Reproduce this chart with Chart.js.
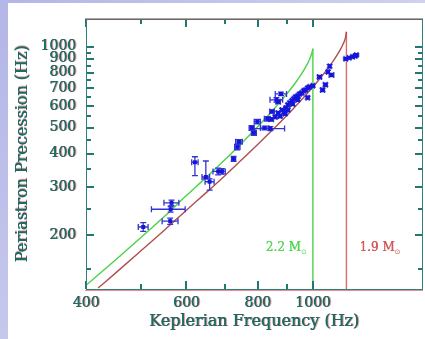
<!DOCTYPE html>
<html>
<head>
<meta charset="utf-8">
<script src="https://cdn.jsdelivr.net/npm/chart.js@4.4.0/dist/chart.umd.min.js"></script>
<style>
  html, body { margin: 0; padding: 0; background: #fff; }
  canvas { display: block; }
</style>
</head>
<body>
<canvas id="chart" width="425" height="339"></canvas>
<script>
// measured QPO pairs (Keplerian freq, periastron precession) with error bars
var kepFreq  = [504, 565, 563, 562, 621, 649, 659, 682, 692, 726, 737, 742, 781, 788, 799, 823, 842, 832, 863, 879,
                848, 845, 859, 869, 876, 883, 890, 894, 897, 904, 904, 911, 919, 922, 926, 933, 941, 941, 948, 956,
                964, 971, 979, 987, 979, 1000, 869, 1027, 1040, 1052, 1063, 1070, 1078, 1142, 1158, 1174, 1186, 1192];
var kepErrLo = [10, 17, 42, 18, 8, 10, 12, 14, 10, 6, 8, 10, 8, 8, 10, 14, 55, 10, 22, 20,
                8, 8, 6, 6, 6, 6, 6, 6, 6, 6, 6, 6, 6, 6, 6, 6, 6, 6, 6, 6,
                6, 6, 6, 6, 6, 6, 8, 8, 8, 8, 6, 6, 10, 8, 8, 8, 8, 8];
var kepErrHi = [10, 17, 34, 18, 8, 10, 12, 14, 10, 6, 8, 10, 8, 8, 10, 14, 50, 10, 22, 20,
                8, 8, 6, 6, 6, 6, 6, 6, 6, 6, 6, 6, 6, 6, 6, 6, 6, 6, 6, 6,
                6, 6, 6, 6, 6, 6, 8, 8, 8, 8, 6, 6, 10, 8, 8, 8, 8, 8];
var precFreq = [214, 263, 249, 225, 372, 328, 315, 344, 344, 383, 424, 443, 499, 478, 526, 499, 496, 539, 634, 667,
                574, 537, 548, 567, 552, 582, 572, 563, 592, 607, 582, 618, 629, 612, 640, 650, 656, 634, 667, 673,
                685, 690, 702, 709, 646, 715, 624, 771, 690, 721, 805, 845, 784, 900, 908, 916, 923, 930];
var precErrLo = [8, 6, 6, 6, 40, 5, 22, 10, 8, 8, 10, 8, 10, 10, 10, 8, 8, 10, 12, 10,
                 8, 8, 8, 8, 8, 8, 8, 8, 8, 8, 8, 8, 8, 8, 8, 8, 8, 8, 8, 8,
                 8, 8, 8, 8, 8, 8, 10, 10, 10, 10, 10, 12, 10, 8, 8, 8, 8, 8];
var precErrHi = [8, 6, 6, 6, 18, 48, 8, 10, 8, 8, 10, 8, 10, 10, 10, 8, 8, 10, 12, 10,
                 8, 8, 8, 8, 8, 8, 8, 8, 8, 8, 8, 8, 8, 8, 8, 8, 8, 8, 8, 8,
                 8, 8, 8, 8, 8, 8, 10, 10, 10, 10, 10, 12, 10, 8, 8, 8, 8, 8];

// model curves (2.2 and 1.9 solar masses)
var curve22Kep  = [400, 450, 500, 550, 600, 650, 700, 750, 800, 850, 900, 930, 950, 970, 985, 995, 1000];
var curve22Prec = [130, 161, 196, 235, 280, 327, 379, 438, 504, 579, 667, 729, 778, 835, 889, 940, 982];
var curve19Kep  = [420, 450, 500, 550, 600, 650, 700, 750, 800, 850, 900, 950, 1000, 1050, 1080, 1110, 1130, 1140, 1145];
var curve19Prec = [127, 144, 175, 209, 247, 287, 331, 380, 433, 491, 555, 627, 708, 803, 870, 951, 1022, 1074, 1134];
var limit22Kep = 1000;
var limit19Kep = 1145;
var massLabels = ['2.2 M', '1.9 M'];

var xRange = [400, 1560];
var yRange = [126, 1265];
var xMajorTicks = [400, 600, 800, 1000];
var xMinorTicks = [500, 700, 900];
var xTickLabels = ['400', '600', '800', '1000'];
var yMajorTicks = [200, 300, 400, 500, 600, 700, 800, 900, 1000];
var yMinorTicks = [150, 250, 350, 450, 550, 650, 750, 850, 950];
var yTickLabels = ['200', '300', '400', '500', '600', '700', '800', '900', '1000'];

var xTitle = 'Keplerian Frequency (Hz)';
var yTitle = 'Periastron Precession (Hz)';

var TEAL = '#1f6a65';
var FRINGE = '#f0a4a4';
var FONT = '"DejaVu Serif", "Liberation Serif", serif';

function pairs(xs, ys) {
  var out = [];
  for (var i = 0; i < xs.length; i++) out.push({ x: xs[i], y: ys[i] });
  return out;
}

// teal text with a pink fringe, drawn by offset fills (no canvas shadow)
function fringeText(c, s, x, y) {
  c.fillStyle = FRINGE;
  c.fillText(s, x + 1.5, y);
  c.fillStyle = TEAL;
  c.fillText(s, x, y);
  c.fillText(s, x + 0.5, y);
}

// page background: lavender strip and white panel
var backgroundPlugin = {
  id: 'bg',
  beforeDraw: function (chart) {
    var c = chart.ctx;
    var g = c.createLinearGradient(0, 0, 425, 339);
    g.addColorStop(0, '#b3b6e6');
    g.addColorStop(1, '#e2e2f4');
    c.save();
    c.fillStyle = g;
    c.fillRect(0, 0, chart.width, chart.height);
    c.fillStyle = '#ffffff';
    c.fillRect(8, 3, chart.width - 8, chart.height - 3);
    c.restore();
  }
};

// error bars for the measured points (drawn just before the markers)
var errorBarPlugin = {
  id: 'errbars',
  beforeDatasetDraw: function (chart, args) {
    if (args.index !== 0) return;
    var c = chart.ctx, xs = chart.scales.x, ys = chart.scales.y;
    var area = chart.chartArea;
    c.save();
    c.beginPath();
    c.rect(area.left, area.top, area.right - area.left, area.bottom - area.top);
    c.clip();
    c.strokeStyle = '#3434d0';
    c.lineWidth = 1.3;
    for (var i = 0; i < kepFreq.length; i++) {
      var px = xs.getPixelForValue(kepFreq[i]);
      var py = ys.getPixelForValue(precFreq[i]);
      var x0 = xs.getPixelForValue(kepFreq[i] - kepErrLo[i]);
      var x1 = xs.getPixelForValue(kepFreq[i] + kepErrHi[i]);
      var y0 = ys.getPixelForValue(precFreq[i] - precErrLo[i]);
      var y1 = ys.getPixelForValue(precFreq[i] + precErrHi[i]);
      c.beginPath();
      c.moveTo(x0, py); c.lineTo(x1, py);
      c.moveTo(x0, py - 3); c.lineTo(x0, py + 3);
      c.moveTo(x1, py - 3); c.lineTo(x1, py + 3);
      c.moveTo(px, y0); c.lineTo(px, y1);
      c.moveTo(px - 3, y0); c.lineTo(px + 3, y0);
      c.moveTo(px - 3, y1); c.lineTo(px + 3, y1);
      c.stroke();
    }
    c.restore();
  }
};

// frame, inward ticks on all sides, labels and titles
var framePlugin = {
  id: 'frame',
  afterDraw: function (chart) {
    var c = chart.ctx, xs = chart.scales.x, ys = chart.scales.y;
    var L = 86, R = 423, T = 19, B = 289;
    var i, p, w;
    c.save();

    // reddish fringe of the frame
    c.fillStyle = '#ec8c8c';
    c.fillRect(L - 1, T - 1, R - L + 1, 1);
    c.fillRect(L - 1, B + 1, R - L + 1, 1);

    // ticks
    c.fillStyle = '#217873';
    for (i = 0; i < xMajorTicks.length; i++) {
      p = Math.round(xs.getPixelForValue(xMajorTicks[i]));
      c.fillRect(p - 1, B - 8, 2, 8);
      c.fillRect(p - 1, T, 2, 8);
    }
    for (i = 0; i < xMinorTicks.length; i++) {
      p = Math.round(xs.getPixelForValue(xMinorTicks[i]));
      c.fillRect(p - 1, B - 5, 2, 5);
      c.fillRect(p - 1, T, 2, 5);
    }
    for (i = 0; i < yMajorTicks.length; i++) {
      p = Math.round(ys.getPixelForValue(yMajorTicks[i]));
      c.fillRect(L, p - 1, 8, 2);
      c.fillRect(R - 8, p - 1, 8, 2);
    }
    for (i = 0; i < yMinorTicks.length; i++) {
      p = Math.round(ys.getPixelForValue(yMinorTicks[i]));
      c.fillRect(L, p - 1, 5, 2);
      c.fillRect(R - 5, p - 1, 5, 2);
    }
    c.fillStyle = '#2f817b';
    c.fillRect(L, T, R - L, 1);
    c.fillRect(L, B, R - L, 1);
    c.fillRect(L, T, 1, B - T + 1);
    c.fillRect(R - 1, T, 1, B - T + 1);

    // mass labels next to the limit lines
    c.textAlign = 'left';
    c.textBaseline = 'alphabetic';
    c.font = '12px ' + FONT;
    w = c.measureText(massLabels[0]).width;
    p = xs.getPixelForValue(limit22Kep) - 12 - w;
    c.fillStyle = '#58d458';
    c.fillText(massLabels[0], p, 251);
    c.fillText(massLabels[0], p + 0.4, 251);
    c.font = '7px "DejaVu Sans", sans-serif';
    c.fillText('\u2299', p + w, 254);
    c.font = '12px ' + FONT;
    w = c.measureText(massLabels[1]).width;
    p = xs.getPixelForValue(limit19Kep) + 13;
    c.fillStyle = '#d25858';
    c.fillText(massLabels[1], p, 251);
    c.fillText(massLabels[1], p + 0.4, 251);
    c.font = '7px "DejaVu Sans", sans-serif';
    c.fillText('\u2299', p + w, 254);

    // tick labels and axis titles
    c.font = '14px ' + FONT;
    c.textAlign = 'center';
    c.textBaseline = 'middle';
    for (i = 0; i < xMajorTicks.length; i++) {
      fringeText(c, xTickLabels[i], xs.getPixelForValue(xMajorTicks[i]), B + 14);
    }
    c.textAlign = 'right';
    for (i = 0; i < yMajorTicks.length; i++) {
      fringeText(c, yTickLabels[i], L - 10, ys.getPixelForValue(yMajorTicks[i]));
    }
    c.font = '16px ' + FONT;
    c.textAlign = 'center';
    fringeText(c, xTitle, 254, 322);
    c.translate(23, 154);
    c.rotate(-Math.PI / 2);
    fringeText(c, yTitle, 0, 0);
    c.restore();
  }
};

var chart = new Chart(document.getElementById('chart'), {
  type: 'scatter',
  data: {
    datasets: [
      {
        label: 'QPOs',
        data: pairs(kepFreq, precFreq),
        pointStyle: 'rect',
        pointRadius: 2.8,
        pointBackgroundColor: '#1414dc',
        pointBorderColor: '#1414dc',
        pointBorderWidth: 0
      },
      {
        label: '2.2 Msun',
        type: 'line',
        data: pairs(curve22Kep, curve22Prec),
        borderColor: '#4ad24a',
        borderWidth: 1.4,
        pointRadius: 0,
        cubicInterpolationMode: 'monotone'
      },
      {
        label: '2.2 limit',
        type: 'line',
        data: [{ x: limit22Kep, y: curve22Prec[curve22Prec.length - 1] }, { x: limit22Kep, y: yRange[0] }],
        borderColor: '#4ad24a',
        borderWidth: 1.4,
        pointRadius: 0
      },
      {
        label: '1.9 Msun',
        type: 'line',
        data: pairs(curve19Kep, curve19Prec),
        borderColor: '#b04e4e',
        borderWidth: 1.4,
        pointRadius: 0,
        cubicInterpolationMode: 'monotone'
      },
      {
        label: '1.9 limit',
        type: 'line',
        data: [{ x: limit19Kep, y: curve19Prec[curve19Prec.length - 1] }, { x: limit19Kep, y: yRange[0] }],
        borderColor: '#e06a6a',
        borderWidth: 1.4,
        pointRadius: 0
      }
    ]
  },
  options: {
    responsive: false,
    animation: false,
    devicePixelRatio: 1,
    layout: { autoPadding: false, padding: { left: 86, right: 2, top: 19, bottom: 50 } },
    plugins: { legend: { display: false }, tooltip: { enabled: false } },
    scales: {
      x: { type: 'logarithmic', min: xRange[0], max: xRange[1], display: false },
      y: { type: 'logarithmic', min: yRange[0], max: yRange[1], display: false }
    }
  },
  plugins: [backgroundPlugin, errorBarPlugin, framePlugin]
});
</script>
</body>
</html>
